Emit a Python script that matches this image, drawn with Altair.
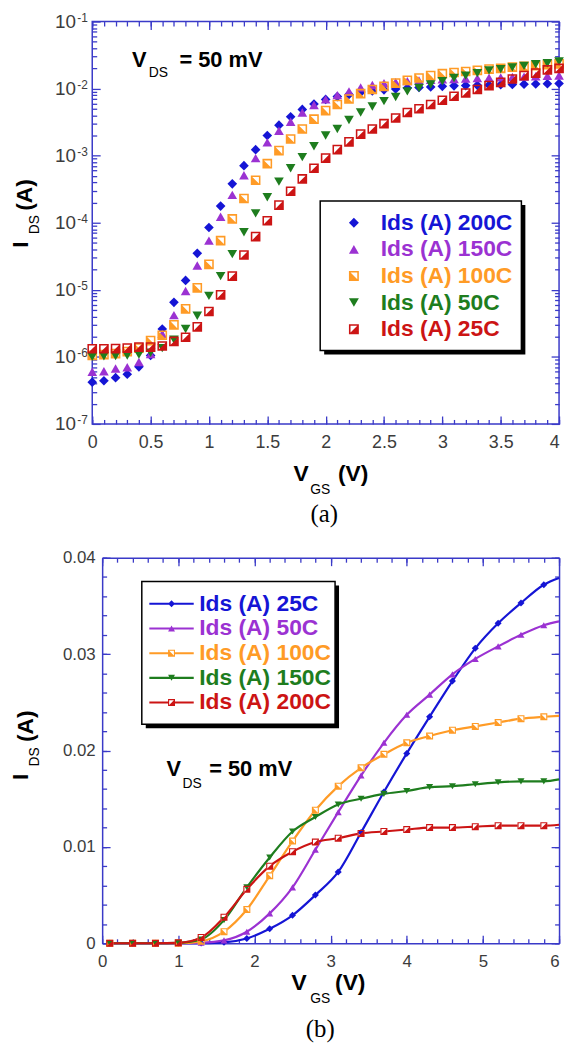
import altair as alt
import pandas as pd

# ---------------- data: panel (a) (log scale, markers only) ----------------
VGS_A = [0.0, 0.1, 0.2, 0.3, 0.4, 0.5, 0.6, 0.7, 0.8, 0.9, 1.0, 1.1, 1.2, 1.3, 1.4,
         1.5, 1.6, 1.7, 1.8, 1.9, 2.0, 2.1, 2.2, 2.3, 2.4, 2.5, 2.6, 2.7, 2.8, 2.9,
         3.0, 3.1, 3.2, 3.3, 3.4, 3.5, 3.6, 3.7, 3.8, 3.9, 4.0]
SERIES_A = ["Ids (A) 200C", "Ids (A) 150C", "Ids (A) 100C", "Ids (A) 50C", "Ids (A) 25C"]
IDS_A_200C = [4.2e-7, 4.4e-7, 4.9e-7, 5.5e-7, 7.1e-7, 1.05e-6, 2.6e-6, 6.5e-6, 1.38e-5, 3.5e-5,
              8.5e-5, 1.77e-4, 3.8e-4, 7.1e-4, 1.23e-3, 2.0e-3, 2.85e-3, 3.8e-3, 4.9e-3, 5.9e-3,
              6.9e-3, 7.6e-3, 8.2e-3, 8.8e-3, 9.2e-3, 9.6e-3, 9.9e-3, 1.02e-2, 1.04e-2, 1.06e-2,
              1.08e-2, 1.10e-2, 1.11e-2, 1.12e-2, 1.13e-2, 1.14e-2, 1.15e-2, 1.16e-2, 1.17e-2, 1.18e-2,
              1.19e-2]
IDS_A_150C = [6.0e-7, 6.1e-7, 6.7e-7, 7.0e-7, 8.4e-7, 1.1e-6, 2.2e-6, 4.2e-6, 9.6e-6, 2.3e-5,
              5.4e-5, 1.23e-4, 2.6e-4, 5.1e-4, 9.2e-4, 1.58e-3, 2.35e-3, 3.2e-3, 4.4e-3, 5.7e-3,
              6.9e-3, 8.0e-3, 9.1e-3, 1.04e-2, 1.13e-2, 1.20e-2, 1.25e-2, 1.29e-2, 1.32e-2, 1.35e-2,
              1.37e-2, 1.39e-2, 1.41e-2, 1.43e-2, 1.45e-2, 1.47e-2, 1.49e-2, 1.51e-2, 1.53e-2, 1.55e-2,
              1.57e-2]
IDS_A_100C = [1.05e-6, 1.08e-6, 1.12e-6, 1.2e-6, 1.35e-6, 1.75e-6, 2.1e-6, 3.0e-6, 5.2e-6, 1.07e-5,
              2.4e-5, 5.4e-5, 1.14e-4, 2.3e-4, 4.3e-4, 7.6e-4, 1.19e-3, 1.77e-3, 2.5e-3, 3.5e-3,
              4.7e-3, 5.8e-3, 7.0e-3, 8.4e-3, 9.7e-3, 1.08e-2, 1.21e-2, 1.33e-2, 1.44e-2, 1.56e-2,
              1.67e-2, 1.74e-2, 1.80e-2, 1.87e-2, 1.95e-2, 2.00e-2, 2.09e-2, 2.14e-2, 2.20e-2, 2.27e-2,
              2.34e-2]
IDS_A_50C = [1.0e-6, 1.02e-6, 1.03e-6, 1.05e-6, 1.08e-6, 1.15e-6, 1.35e-6, 1.8e-6, 2.6e-6, 4.1e-6,
             8.1e-6, 1.6e-5, 3.4e-5, 7.2e-5, 1.38e-4, 2.4e-4, 4.1e-4, 6.5e-4, 9.5e-4, 1.38e-3,
             2.0e-3, 2.5e-3, 3.4e-3, 4.4e-3, 5.4e-3, 6.5e-3, 7.5e-3, 9.1e-3, 1.02e-2, 1.15e-2,
             1.29e-2, 1.44e-2, 1.56e-2, 1.70e-2, 1.87e-2, 1.95e-2, 2.07e-2, 2.18e-2, 2.31e-2, 2.39e-2,
             2.54e-2]
IDS_A_25C = [1.32e-6, 1.32e-6, 1.33e-6, 1.35e-6, 1.4e-6, 1.4e-6, 1.45e-6, 1.7e-6, 1.96e-6, 2.8e-6,
             4.75e-6, 8.4e-6, 1.6e-5, 3.3e-5, 6.2e-5, 1.07e-4, 1.83e-4, 2.95e-4, 4.5e-4, 6.5e-4,
             9.2e-4, 1.23e-3, 1.61e-3, 2.1e-3, 2.5e-3, 3.0e-3, 3.65e-3, 4.4e-3, 5.0e-3, 5.8e-3,
             6.7e-3, 7.7e-3, 8.6e-3, 9.7e-3, 1.11e-2, 1.24e-2, 1.39e-2, 1.56e-2, 1.70e-2, 1.90e-2,
             2.0e-2]

# ---------------- data: panel (b) (linear scale, lines + markers) ----------------
VGS_B = [0.1, 0.4, 0.7, 1.0, 1.3, 1.6, 1.9, 2.2, 2.5, 2.8, 3.1, 3.4, 3.7, 4.0, 4.3,
         4.6, 4.9, 5.2, 5.5, 5.8, 6.0]
MARKED_B = [1] * 20 + [0]
SERIES_B = ["Ids (A) 25C", "Ids (A) 50C", "Ids (A) 100C", "Ids (A) 150C", "Ids (A) 200C"]
IDS_B_25C = [0, 0, 0, 0, 0.00002, 0.0001, 0.0005, 0.0015, 0.0029, 0.0050, 0.0074, 0.0115,
             0.0157, 0.0197, 0.0235, 0.0272, 0.0306, 0.0332, 0.0353, 0.0372, 0.0379]
IDS_B_50C = [0, 0, 0, 0, 0.00005, 0.0003, 0.0012, 0.0031, 0.0058, 0.0097, 0.0136, 0.0174,
             0.0208, 0.0237, 0.0258, 0.0279, 0.0295, 0.0308, 0.0320, 0.0330, 0.0334]
IDS_B_100C = [0, 0, 0, 0, 0.0002, 0.0012, 0.0035, 0.0070, 0.0106, 0.0138, 0.0163, 0.0182,
              0.0196, 0.0208, 0.0215, 0.0221, 0.0225, 0.0229, 0.0233, 0.0235, 0.0236]
IDS_B_150C = [0, 0, 0, 0.00005, 0.0004, 0.0024, 0.0058, 0.0089, 0.0116, 0.0131, 0.0144, 0.0150,
              0.0155, 0.0158, 0.0162, 0.0163, 0.0165, 0.0167, 0.0168, 0.0168, 0.0170]
IDS_B_200C = [0, 0, 0, 0.00005, 0.0006, 0.0027, 0.0056, 0.0080, 0.0095, 0.0105, 0.0109, 0.0114,
              0.0116, 0.0118, 0.0120, 0.0120, 0.0121, 0.0122, 0.0122, 0.0122, 0.0123]

# ---------------- styling ----------------
FONT = "Liberation Sans"
SERIF = "Liberation Serif"
AXIS_BLUE = "#3a3ac8"
GRAY = "#3c3c3c"
BLUE, PURPLE, ORANGE, GREEN, RED = "#1515d5", "#9b32d2", "#ff9b26", "#1e7d1e", "#cc1414"

RING = "M-1,-1H1V1H-1Z M-0.68,-0.68V0.68H0.68V-0.68Z"
SQ_LL = RING + " M-0.68,-0.68L0.68,0.68H-0.68Z"   # lower-left half filled
SQ_LR = RING + " M0.68,-0.68V0.68H-0.68Z"         # lower-right half filled
LINE_FULL = "M-6.4,-0.3H6.4V0.3H-6.4Z "
LINE_SPLIT = "M-6.4,-0.3H-1V0.3H-6.4Z M1,-0.3H6.4V0.3H1Z "

COLORS_A = [BLUE, PURPLE, ORANGE, GREEN, RED]
SHAPES_A = ["diamond", "triangle-up", SQ_LL, "triangle-down", SQ_LR]
COLORS_B = [BLUE, PURPLE, ORANGE, GREEN, RED]
SHAPES_B = ["diamond", "triangle-up", SQ_LL, "triangle-down", SQ_LR]
LEGEND_SHAPES_B = [LINE_FULL + "M-1,0L0,-1L1,0L0,1Z",
                   LINE_FULL + "M0,-0.87L1,0.87H-1Z",
                   LINE_SPLIT + SQ_LL,
                   LINE_FULL + "M0,0.87L-1,-0.87H1Z",
                   LINE_SPLIT + SQ_LR]

rows_a = []
for s, vals in zip(SERIES_A, [IDS_A_200C, IDS_A_150C, IDS_A_100C, IDS_A_50C, IDS_A_25C]):
    for v, i in zip(VGS_A, vals):
        rows_a.append({"series": s, "V": v, "I": i})
df_a = pd.DataFrame(rows_a)

rows_b = []
for s, vals in zip(SERIES_B, [IDS_B_25C, IDS_B_50C, IDS_B_100C, IDS_B_150C, IDS_B_200C]):
    for v, i, m in zip(VGS_B, vals, MARKED_B):
        rows_b.append({"series": s, "V": v, "I": i, "m": m})
df_b = pd.DataFrame(rows_b)


def tick_axis(orient, values, size, extra=0, **kw):
    d = dict(orient=orient, values=values, tickSize=size, offset=-(size + extra), domain=False,
             grid=False, ticks=True, tickColor=AXIS_BLUE, tickWidth=1.3, title=None,
             labels=False, minExtent=0)
    d.update(kw)
    return alt.Axis(**d)


def frame_axis(orient, extra=0):
    return alt.Axis(orient=orient, domain=True, domainColor=AXIS_BLUE, domainWidth=1.5,
                    ticks=False, labels=False, grid=False, title=None, offset=-extra,
                    minExtent=0)


def lab(size, pad, **kw):
    d = dict(labels=True, labelFont=FONT, labelFontSize=size, labelColor=GRAY,
             labelPadding=pad, labelFlush=False, labelOverlap=False)
    d.update(kw)
    return d


def last_right(vmax):
    return {"condition": {"test": f"datum.value >= {vmax}", "value": "right"}, "value": "center"}


def txt(s, x, y, size, angle=0, align="left", font=FONT, weight="bold"):
    return alt.Chart(pd.DataFrame({"t": [s]})).mark_text(
        align=align, baseline="middle", fontSize=size, font=font, angle=angle,
        color="black", fontWeight=weight
    ).encode(x=alt.value(x), y=alt.value(y), text="t:N")


def box(x, y, w, h, shadow=4):
    one = pd.DataFrame({"t": [0]})
    sh = alt.Chart(one).mark_rect(color="black").encode(
        x=alt.value(x + shadow), x2=alt.value(x + w + shadow),
        y=alt.value(y + shadow), y2=alt.value(y + h + shadow))
    bx = alt.Chart(one).mark_rect(fill="white", stroke="black", strokeWidth=1.5).encode(
        x=alt.value(x), x2=alt.value(x + w), y=alt.value(y), y2=alt.value(y + h))
    return [sh, bx]


def color_expr(names, colors):
    parts = [f"datum.label == '{n}' ? '{c}'" for n, c in zip(names, colors)]
    return " : ".join(parts) + " : 'black'"


W = 471  # common group width (page x 92 .. 563)

# ================= panel (a) =================
HA = 406
XMAJ_A = [0, 0.5, 1, 1.5, 2, 2.5, 3, 3.5, 4]
XMIN_A = [round(0.1 * i, 1) for i in range(41)]
YMAJ_A = [1e-7, 1e-6, 1e-5, 1e-4, 1e-3, 1e-2, 1e-1]
YMIN_A = [m * 10.0 ** e for e in range(-7, -1) for m in range(2, 10)]
xs_a = alt.Scale(domain=[0, 4], nice=False, zero=False)
ys_a = alt.Scale(type="log", domain=[1e-7, 1e-1], nice=False)

LBX_A, LBY_A, LBW_A, LBH_A = 230, 181, 203, 151
leg_a = alt.Legend(orient="none", legendX=LBX_A + 12, legendY=203 - 11.5, title=None,
                   padding=0, labelFont=FONT, labelFontSize=23, labelFontWeight="bold",
                   labelColor={"expr": color_expr(SERIES_A, COLORS_A)},
                   labelOffset=15.5, symbolOffset=10.5, symbolSize=100, rowPadding=2.85,
                   labelLimit=400, symbolStrokeWidth=0)

pa = alt.Chart(df_a)
under_a = pa.transform_filter(
    alt.FieldOneOfPredicate(field="series", oneOf=[SERIES_A[2], SERIES_A[4]])
).mark_point(shape="square", filled=True, color="white", size=85, opacity=1).encode(
    x=alt.X("V:Q", scale=xs_a, axis=None), y=alt.Y("I:Q", scale=ys_a, axis=None))
marks_a = pa.mark_point(filled=True, size=95, opacity=1).encode(
    x=alt.X("V:Q", scale=xs_a, axis=tick_axis("bottom", XMAJ_A, 8, format="~g",
                                               labelAlign=last_right(4), **lab(18, 10))),
    y=alt.Y("I:Q", scale=ys_a, axis=tick_axis("left", YMAJ_A, 8, labelExpr="'10'", **lab(19, 17))),
    color=alt.Color("series:N", scale=alt.Scale(domain=SERIES_A, range=COLORS_A), legend=leg_a),
    shape=alt.Shape("series:N", scale=alt.Scale(domain=SERIES_A, range=SHAPES_A), legend=leg_a),
)
minor_a = pa.mark_point(opacity=0).encode(
    x=alt.X("V:Q", scale=xs_a, axis=tick_axis("bottom", XMIN_A, 4.5)),
    y=alt.Y("I:Q", scale=ys_a, axis=tick_axis("left", YMIN_A, 4.5)))
top_a = pa.mark_point(opacity=0).encode(
    x=alt.X("V:Q", scale=xs_a, axis=tick_axis("top", XMAJ_A, 8)),
    y=alt.Y("I:Q", scale=ys_a, axis=tick_axis("right", YMAJ_A, 8)))
topmin_a = pa.mark_point(opacity=0).encode(
    x=alt.X("V:Q", scale=xs_a, axis=tick_axis("top", XMIN_A, 4.5)),
    y=alt.Y("I:Q", scale=ys_a, axis=tick_axis("right", YMIN_A, 4.5)))
sup_a = pa.mark_point(opacity=0).encode(
    x=alt.X("V:Q", scale=xs_a, axis=None),
    y=alt.Y("I:Q", scale=ys_a, axis=alt.Axis(
        orient="left", values=YMAJ_A, ticks=False, domain=False, grid=False, title=None,
        labelExpr="'' + round(log(datum.value) / LN10)", labelFont=FONT, labelFontSize=12,
        labelColor=GRAY, labelPadding=5, labelOffset=-4.5, labelOverlap=False, minExtent=0)))

texts_a = [
    txt("V", 40, 39, 22), txt("DS", 57, 52, 14, weight="normal"), txt("= 50 mV", 88, 39, 22),
    txt("V", 203, 457, 23), txt("GS", 220, 473, 14, weight="normal"), txt("(V)", 248, 457, 23),
    txt("I", -72, 225, 23, angle=270, align="center"),
    txt("DS", -58, 205, 14, angle=270, align="center", weight="normal"),
    txt("(A)", -68, 175, 23, angle=270, align="center"),
    txt("(a)", 234, 497, 25, align="center", font=SERIF, weight="normal"),
]

panel_a = alt.layer(
    *box(LBX_A, LBY_A, LBW_A, LBH_A), under_a, marks_a, minor_a, top_a, topmin_a, sup_a, *texts_a
).resolve_axis(x="independent", y="independent").properties(width=W, height=HA)

# ================= panel (b) =================
SH = 10  # panel (b) plot starts 10 px right of panel (a)'s
HB = 389
XMAJ_B = [0, 1, 2, 3, 4, 5, 6]
XMIN_B = [round(0.2 * i, 1) for i in range(31)]
YMAJ_B = [0, 0.01, 0.02, 0.03, 0.04]
YMIN_B = [round(0.002 * i, 3) for i in range(21)]
xs_b = alt.Scale(domain=[0, 6], range=[SH, W], nice=False, zero=False)
ys_b = alt.Scale(domain=[0, 0.04], nice=False)

LBX_B, LBY_B, LBW_B, LBH_B = 40 + SH, 24, 195, 144
leg_b = alt.Legend(orient="none", legendX=LBX_B + 8, legendY=35, title=None,
                   padding=0, labelFont=FONT, labelFontSize=23, labelFontWeight="bold",
                   labelColor={"expr": color_expr(SERIES_B, COLORS_B)},
                   labelOffset=16.5, symbolOffset=10.5, symbolSize=49, rowPadding=0.9,
                   labelLimit=400, symbolStrokeWidth=0)

pb = alt.Chart(df_b)
lines_b = pb.mark_line(interpolate="monotone", strokeWidth=2.2).encode(
    x=alt.X("V:Q", scale=xs_b, axis=tick_axis("bottom", XMAJ_B, 8, format="~g",
                                               labelAlign=last_right(6), **lab(17, 10))),
    y=alt.Y("I:Q", scale=ys_b, axis=tick_axis("left", YMAJ_B, 8, extra=SH, format="~g", **lab(17, 7))),
    color=alt.Color("series:N", scale=alt.Scale(domain=SERIES_B, range=COLORS_B), legend=None),
    order=alt.Order("V:Q"),
)
under_b = pb.transform_filter("datum.m == 1").transform_filter(
    alt.FieldOneOfPredicate(field="series", oneOf=[SERIES_B[2], SERIES_B[4]])
).mark_point(shape="square", filled=True, color="white", size=45, opacity=1).encode(
    x=alt.X("V:Q", scale=xs_b, axis=None), y=alt.Y("I:Q", scale=ys_b, axis=None))
marks_b = pb.transform_filter("datum.m == 1").mark_point(filled=True, size=50, opacity=1).encode(
    x=alt.X("V:Q", scale=xs_b, axis=None),
    y=alt.Y("I:Q", scale=ys_b, axis=None),
    color=alt.Color("series:N", scale=alt.Scale(domain=SERIES_B, range=COLORS_B), legend=None),
    shape=alt.Shape("series:N", scale=alt.Scale(domain=SERIES_B, range=SHAPES_B), legend=None),
)
legend_b = pb.transform_filter("false").mark_point(filled=True, opacity=1).encode(
    x=alt.X("V:Q", scale=xs_b, axis=None),
    y=alt.Y("I:Q", scale=ys_b, axis=None),
    color=alt.Color("series:N", scale=alt.Scale(domain=SERIES_B, range=COLORS_B), legend=leg_b),
    shape=alt.Shape("series:N", scale=alt.Scale(domain=SERIES_B, range=LEGEND_SHAPES_B), legend=leg_b),
)
minor_b = pb.mark_point(opacity=0).encode(
    x=alt.X("V:Q", scale=xs_b, axis=tick_axis("bottom", XMIN_B, 4.5)),
    y=alt.Y("I:Q", scale=ys_b, axis=tick_axis("left", YMIN_B, 4.5, extra=SH)))
top_b = pb.mark_point(opacity=0).encode(
    x=alt.X("V:Q", scale=xs_b, axis=tick_axis("top", XMAJ_B, 8)),
    y=alt.Y("I:Q", scale=ys_b, axis=tick_axis("right", YMAJ_B, 8)))
topmin_b = pb.mark_point(opacity=0).encode(
    x=alt.X("V:Q", scale=xs_b, axis=tick_axis("top", XMIN_B, 4.5)),
    y=alt.Y("I:Q", scale=ys_b, axis=tick_axis("right", YMIN_B, 4.5)))
frame1_b = pb.mark_point(opacity=0).encode(
    x=alt.X("V:Q", scale=xs_b, axis=frame_axis("bottom")),
    y=alt.Y("I:Q", scale=ys_b, axis=frame_axis("left", SH)))
frame2_b = pb.mark_point(opacity=0).encode(
    x=alt.X("V:Q", scale=xs_b, axis=frame_axis("top")),
    y=alt.Y("I:Q", scale=ys_b, axis=frame_axis("right")))

texts_b = [
    txt("V", 65 + SH, 213, 22), txt("DS", 81 + SH, 228, 14, weight="normal"),
    txt("= 50 mV", 108 + SH, 213, 22),
    txt("V", 191 + SH, 429, 23), txt("GS", 210 + SH, 445, 14, weight="normal"),
    txt("(V)", 235 + SH, 429, 23),
    txt("I", -82 + SH, 221, 23, angle=270, align="center"),
    txt("DS", -68 + SH, 201, 14, angle=270, align="center", weight="normal"),
    txt("(A)", -77 + SH, 170, 23, angle=270, align="center"),
    txt("(b)", 220 + SH, 476, 25, align="center", font=SERIF, weight="normal"),
]

panel_b = alt.layer(
    *box(LBX_B, LBY_B, LBW_B, LBH_B), lines_b, under_b, marks_b, legend_b,
    minor_b, top_b, topmin_b, frame1_b, frame2_b, *texts_b
).resolve_axis(x="independent", y="independent").resolve_scale(
    color="independent", shape="independent"
).properties(width=W, height=HB, view=alt.ViewBackground(stroke=None))

chart = alt.vconcat(panel_a, panel_b, spacing=21).properties(
    padding={"left": 1, "top": -3, "right": 0, "bottom": 0}
).configure_view(stroke=AXIS_BLUE, strokeWidth=1.5)

chart.save("out.html", embed_options={"renderer": "svg", "actions": False})
